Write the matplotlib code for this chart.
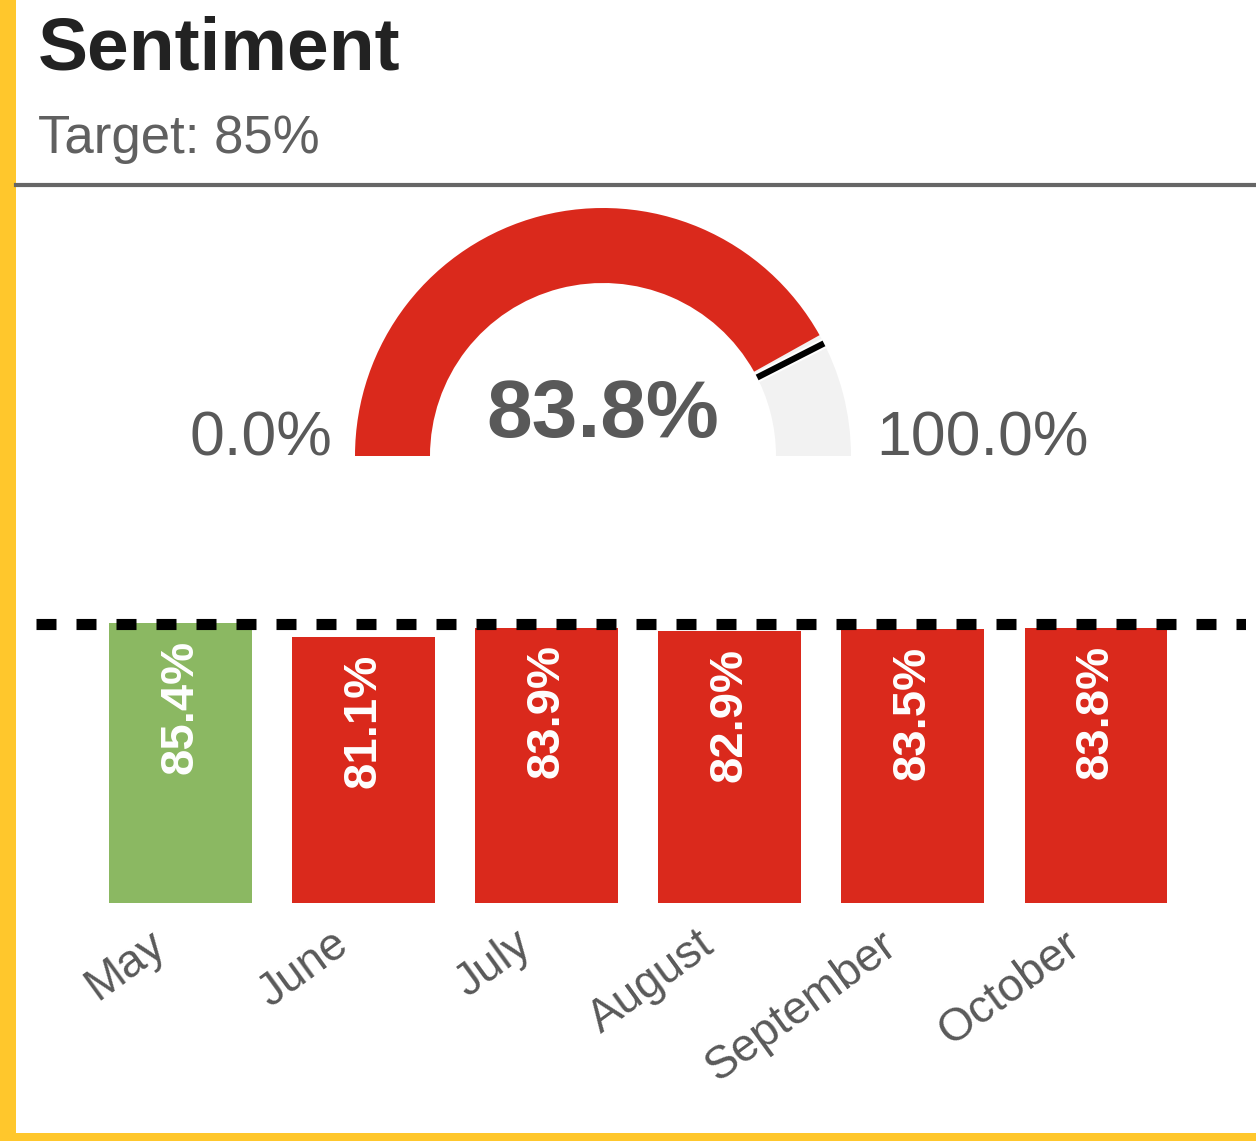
import matplotlib
matplotlib.use("Agg")
import matplotlib.pyplot as plt
from matplotlib.patches import Wedge, Rectangle
import matplotlib.patheffects as pe
import matplotlib.transforms as mtransforms
import numpy as np

plt.rcParams['font.family'] = ['Liberation Sans', 'DejaVu Sans']

# data
months = ["May", "June", "July", "August", "September", "October"]
sentiment = [85.4, 81.1, 83.9, 82.9, 83.5, 83.8]
target = 85.0
current = 83.8
gauge_min, gauge_max = 0.0, 100.0

RED = "#da291c"
GREEN = "#8bb862"
GREY_TXT = "#595959"
YELLOW = "#ffc72c"

W, H = 1256, 1141
fig = plt.figure(figsize=(W / 100, H / 100), dpi=100)

# background axes in pixel coords (y up)
bg = fig.add_axes([0, 0, 1, 1])
bg.set_xlim(0, W)
bg.set_ylim(0, H)
bg.axis("off")

bg.add_patch(Rectangle((0, 0), 16, H, color=YELLOW, lw=0))
bg.add_patch(Rectangle((0, 0), W, 8, color=YELLOW, lw=0))
bg.plot([16, W], [H - 185, H - 185], color="#666666", lw=3)

bg.text(38, H - 70, "Sentiment", fontsize=54, fontweight="bold", color="#222222", va="baseline")
bg.text(38, H - 153, "Target: 85%", fontsize=38, color="#606060", va="baseline")

# gauge
cx, cy = 603, H - 456
r_out, r_in = 248, 173
frac = (current - gauge_min) / (gauge_max - gauge_min)
ang_val = 180 - frac * 180
bg.add_patch(Wedge((cx, cy), r_out, 0, ang_val, width=r_out - r_in, color="#f2f2f2", lw=0))
bg.add_patch(Wedge((cx, cy), r_out, ang_val, 180, width=r_out - r_in, color=RED, lw=0))
ang_t = np.radians(180 - (target - gauge_min) / (gauge_max - gauge_min) * 180)
bg.plot([cx + r_in * np.cos(ang_t), cx + r_out * np.cos(ang_t)],
        [cy + r_in * np.sin(ang_t), cy + r_out * np.sin(ang_t)],
        color="black", lw=4.5, solid_capstyle="butt",
        path_effects=[pe.Stroke(linewidth=7.5, foreground="white"), pe.Normal()])

bg.text(332, cy, f"{gauge_min:.1f}%", fontsize=45, color=GREY_TXT, ha="right", va="baseline")
bg.text(876, cy, f"{gauge_max:.1f}%", fontsize=45, color=GREY_TXT, ha="left", va="baseline")
bg.text(cx, H - 437, f"{current:.1f}%", fontsize=59, fontweight="bold", color=GREY_TXT,
        ha="center", va="baseline")

# bar chart
ax = fig.add_axes([36 / W, (H - 903) / H, 1210 / W, 328 / H])
x = np.arange(len(months))
colors = [GREEN if v >= target else RED for v in sentiment]
ax.bar(x, sentiment, width=0.78, color=colors, zorder=2)
ax.set_ylim(0, 100)
ax.set_xlim(-0.79, 5.82)
lw = 8
ax.axhline(target, color="black", lw=lw, linestyle=(0, (14.4 / lw, 14.4 / lw)), zorder=3)
for xi, v in zip(x, sentiment):
    ax.annotate(f"{v:.1f}%", (xi, v), xytext=(0, -12), textcoords="offset points",
                rotation=90, ha="center", va="top", color="white",
                fontsize=34, fontweight="bold", zorder=4)

for s in ax.spines.values():
    s.set_visible(False)
ax.set_yticks([])
ax.set_xticks(x)
ax.set_xticklabels(months, rotation=36, ha="right", rotation_mode="anchor",
                   fontsize=33, color=GREY_TXT)
ax.tick_params(axis="x", length=0, pad=14)
offset = mtransforms.ScaledTranslation(-24 / 72, 0, fig.dpi_scale_trans)
for lab in ax.get_xticklabels():
    lab.set_transform(lab.get_transform() + offset)

fig.savefig("out.png", dpi=100)
